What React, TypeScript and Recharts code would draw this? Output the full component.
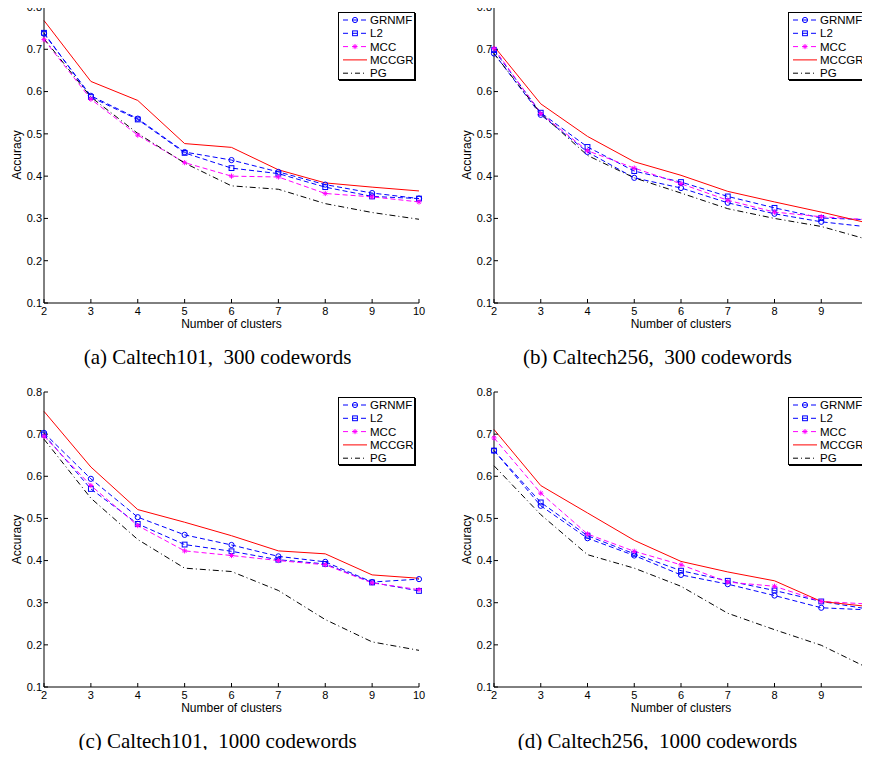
import { LineChart, Line, XAxis, YAxis, Legend } from 'recharts';

const clusters = [2, 3, 4, 5, 6, 7, 8, 9, 10];
const yTicks = [0.1, 0.2, 0.3, 0.4, 0.5, 0.6, 0.7, 0.8];

// (a) Caltech101, 300 codewords
const grnmfA = [0.737, 0.59, 0.536, 0.457, 0.438, 0.41, 0.38, 0.36, 0.347];
const l2A = [0.739, 0.587, 0.534, 0.455, 0.419, 0.406, 0.374, 0.352, 0.347];
const mccA = [0.723, 0.582, 0.497, 0.432, 0.4, 0.398, 0.359, 0.351, 0.339];
const mccgrA = [0.768, 0.624, 0.579, 0.477, 0.468, 0.415, 0.384, 0.374, 0.365];
const pgA = [0.725, 0.587, 0.501, 0.431, 0.377, 0.369, 0.335, 0.314, 0.298];

// (b) Caltech256, 300 codewords
const grnmfB = [0.69, 0.545, 0.457, 0.396, 0.372, 0.337, 0.311, 0.292, 0.28];
const l2B = [0.698, 0.55, 0.469, 0.412, 0.386, 0.352, 0.325, 0.301, 0.297];
const mccB = [0.702, 0.548, 0.46, 0.419, 0.382, 0.343, 0.315, 0.304, 0.297];
const mccgrB = [0.707, 0.571, 0.494, 0.434, 0.402, 0.364, 0.339, 0.315, 0.289];
const pgB = [0.69, 0.548, 0.449, 0.396, 0.36, 0.323, 0.3, 0.281, 0.25];

// (c) Caltech101, 1000 codewords
const grnmfC = [0.703, 0.594, 0.503, 0.461, 0.437, 0.41, 0.397, 0.349, 0.356];
const l2C = [0.699, 0.57, 0.487, 0.438, 0.422, 0.402, 0.392, 0.348, 0.328];
const mccC = [0.695, 0.578, 0.483, 0.423, 0.412, 0.4, 0.39, 0.347, 0.331];
const mccgrC = [0.754, 0.622, 0.521, 0.491, 0.459, 0.423, 0.416, 0.366, 0.358];
const pgC = [0.688, 0.548, 0.45, 0.382, 0.374, 0.329, 0.26, 0.207, 0.187];

// (d) Caltech256, 1000 codewords
const grnmfD = [0.661, 0.53, 0.453, 0.412, 0.366, 0.344, 0.317, 0.288, 0.283];
const l2D = [0.661, 0.538, 0.459, 0.416, 0.376, 0.352, 0.329, 0.303, 0.285];
const mccD = [0.691, 0.56, 0.463, 0.422, 0.39, 0.349, 0.339, 0.303, 0.297];
const mccgrD = [0.711, 0.578, 0.513, 0.448, 0.398, 0.373, 0.352, 0.303, 0.291];
const pgD = [0.625, 0.509, 0.414, 0.382, 0.339, 0.275, 0.236, 0.199, 0.145];

const BLUE = '#0000ff';
const MAGENTA = '#ff00ff';
const RED = '#ff0000';
const BLACK = '#000000';
const FONT = '"Liberation Sans", Arial, Helvetica, sans-serif';

type MarkerKind = 'circle' | 'square' | 'star' | 'none';

const seriesDefs: { key: string; name: string; color: string; dash?: string; marker: MarkerKind }[] = [
  { key: 'grnmf', name: 'GRNMF', color: BLUE, dash: '5 3', marker: 'circle' },
  { key: 'l2', name: 'L2', color: BLUE, dash: '5 3', marker: 'square' },
  { key: 'mcc', name: 'MCC', color: MAGENTA, dash: '5 3', marker: 'star' },
  { key: 'mccgr', name: 'MCCGR', color: RED, marker: 'none' },
  { key: 'pg', name: 'PG', color: BLACK, dash: '6 3 1 3', marker: 'none' },
];

function buildRows(grnmf: number[], l2: number[], mcc: number[], mccgr: number[], pg: number[]) {
  return clusters.map((k, i) => ({ k, grnmf: grnmf[i], l2: l2[i], mcc: mcc[i], mccgr: mccgr[i], pg: pg[i] }));
}

function Marker({ kind, cx, cy, color }: { kind: MarkerKind; cx: number; cy: number; color: string }) {
  if (kind === 'circle') return <circle cx={cx} cy={cy} r={2.6} fill="none" stroke={color} strokeWidth={1} />;
  if (kind === 'square') return <rect x={cx - 2.4} y={cy - 2.4} width={4.8} height={4.8} fill="none" stroke={color} strokeWidth={1} />;
  if (kind === 'star') {
    const s = 2.6;
    const d = s * 0.7;
    return (
      <path
        d={`M${cx - s},${cy}H${cx + s}M${cx},${cy - s}V${cy + s}M${cx - d},${cy - d}L${cx + d},${cy + d}M${cx - d},${cy + d}L${cx + d},${cy - d}`}
        stroke={color}
        strokeWidth={1}
        fill="none"
      />
    );
  }
  return null;
}

function makeDot(kind: MarkerKind, color: string) {
  return (p: any) => (
    <g key={`dot-${p.index}`}>
      <Marker kind={kind} cx={p.cx} cy={p.cy} color={color} />
    </g>
  );
}

function LegendBox() {
  return (
    <div style={{ width: 75, height: 66, border: '1px solid #000', boxShadow: '1px 1px 0 #000', background: '#fff', fontFamily: FONT, fontSize: 11 }}>
      <svg width={75} height={66}>
        {seriesDefs.map((s, i) => {
          const y = 7 + i * 13.3;
          return (
            <g key={s.key}>
              <line x1={4} x2={28} y1={y} y2={y} stroke={s.color} strokeWidth={1} strokeDasharray={s.dash ? (s.marker === 'none' ? '5 3 1 3' : '5 4') : undefined} />
              <Marker kind={s.marker} cx={16} cy={y} color={s.color} />
              <text x={31} y={y + 4} fontSize={11.5} fontFamily={FONT} fill="#000">
                {s.name}
              </text>
            </g>
          );
        })}
      </svg>
    </div>
  );
}

type PanelProps = {
  rows: ReturnType<typeof buildRows>;
  left: number;
  top: number;
  chartWidth: number;
  axisWidth: number;
  marginTop: number;
  marginRight: number;
  marginBottom: number;
  legendLeft: number;
  legendTop: number;
};

function Panel({ rows, left, top, chartWidth, axisWidth, marginTop, marginRight, marginBottom, legendLeft, legendTop }: PanelProps) {
  const tickStyle = { fill: '#000', fontSize: 11, fontFamily: FONT };
  return (
    <div style={{ position: 'absolute', left, top }}>
      <LineChart width={chartWidth} height={340} data={rows} margin={{ top: marginTop, right: marginRight, bottom: marginBottom, left: 0 }} style={{ fontFamily: FONT }}>
        <XAxis
          dataKey="k"
          type="number"
          domain={[2, 10]}
          ticks={clusters}
          interval={0}
          height={26}
          stroke="#000"
          tick={tickStyle}
          tickSize={-4}
          tickMargin={8}
          label={{ value: 'Number of clusters', position: 'insideBottom', offset: 1, fill: '#000', fontSize: 12 }}
        />
        <XAxis xAxisId="top" dataKey="k" type="number" domain={[2, 10]} ticks={clusters} interval={0} orientation="top" height={0} stroke="#000" tick={false} tickSize={-4} />
        <YAxis
          type="number"
          domain={[0.1, 0.8]}
          ticks={yTicks}
          interval={0}
          width={axisWidth}
          stroke="#000"
          tick={tickStyle}
          tickSize={-4}
          tickMargin={6}
          label={{ value: 'Accuracy', angle: -90, position: 'insideLeft', offset: axisWidth - 27, fill: '#000', fontSize: 12, style: { textAnchor: 'middle' } }}
        />
        <YAxis yAxisId="right" type="number" domain={[0.1, 0.8]} ticks={yTicks} interval={0} orientation="right" width={0} stroke="#000" tick={false} tickSize={-4} />
        <Legend
          layout="vertical"
          align="center"
          verticalAlign="middle"
          content={() => <LegendBox />}
          wrapperStyle={{ left: legendLeft, top: legendTop, width: 77, height: 68 }}
        />
        {seriesDefs.map((s) => (
          <Line
            key={s.key}
            dataKey={s.key}
            name={s.name}
            type="linear"
            stroke={s.color}
            strokeWidth={1}
            strokeDasharray={s.dash}
            dot={s.marker === 'none' ? false : makeDot(s.marker, s.color)}
            activeDot={false}
            isAnimationActive={false}
          />
        ))}
      </LineChart>
    </div>
  );
}

const captionStyle = {
  position: 'absolute' as const,
  width: 435,
  textAlign: 'center' as const,
  fontFamily: '"Liberation Serif", "Times New Roman", serif',
  fontSize: 21,
  lineHeight: '21px',
  color: '#000',
  whiteSpace: 'pre' as const,
};

export default function App() {
  return (
    <div style={{ position: 'relative', width: 870, height: 758, margin: -8, overflow: 'hidden', background: '#fff' }}>
      <Panel rows={buildRows(grnmfA, l2A, mccA, mccgrA, pgA)} left={0} top={0} chartWidth={435} axisWidth={44} marginTop={7} marginRight={16} marginBottom={11} legendLeft={338} legendTop={12} />
      <Panel rows={buildRows(grnmfB, l2B, mccB, mccgrB, pgB)} left={435} top={0} chartWidth={447} axisWidth={59} marginTop={7} marginRight={14} marginBottom={11} legendLeft={353} legendTop={12} />
      <Panel rows={buildRows(grnmfC, l2C, mccC, mccgrC, pgC)} left={0} top={380} chartWidth={435} axisWidth={44} marginTop={12} marginRight={16} marginBottom={7} legendLeft={338} legendTop={17} />
      <Panel rows={buildRows(grnmfD, l2D, mccD, mccgrD, pgD)} left={435} top={380} chartWidth={447} axisWidth={59} marginTop={12} marginRight={14} marginBottom={7} legendLeft={353} legendTop={17} />
      <div style={{ ...captionStyle, left: 0, top: 347 }}>(a) Caltech101,  300 codewords</div>
      <div style={{ ...captionStyle, left: 440, top: 347 }}>(b) Caltech256,  300 codewords</div>
      <div style={{ ...captionStyle, left: 0, top: 731 }}>(c) Caltech101,  1000 codewords</div>
      <div style={{ ...captionStyle, left: 440, top: 731 }}>(d) Caltech256,  1000 codewords</div>
    </div>
  );
}
